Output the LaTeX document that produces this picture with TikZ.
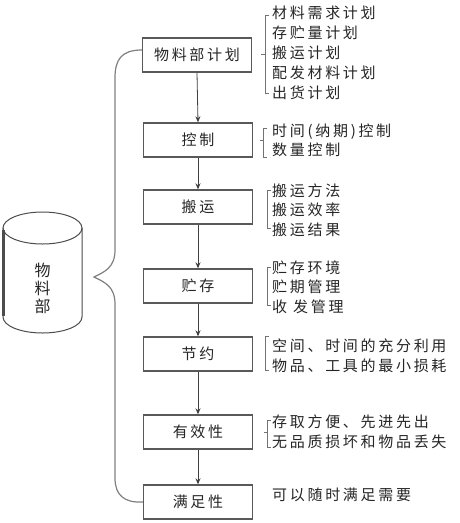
\documentclass[tikz,border=0pt]{standalone}
\usepackage{fontspec}
\newfontfamily\cjk[LetterSpace=18]{Noto Sans CJK SC}
\newfontfamily\cjkplain{Noto Sans CJK SC}
\usetikzlibrary{arrows.meta}
\begin{document}
\begin{tikzpicture}[x=1pt,y=-1pt,
  box/.style={draw=black!65, line width=1.4pt, fill=white, minimum width=109pt, minimum height=34pt, inner sep=0pt, font=\cjk\fontsize{15}{18}\selectfont, text=black!85},
  note/.style={anchor=west, align=left, inner sep=0pt, font=\cjk\fontsize{15}{19.5}\selectfont, text=black!85},
  flow/.style={draw=black!75, line width=0.8pt, -{Stealth[length=6pt,width=5pt]}},
  brk/.style={draw=black!55, line width=1pt},
  cyl/.style={draw=black!70, line width=1pt},
]
\fill[white] (0,0) rectangle (460,523);
\useasboundingbox (0,0) rectangle (460,523);

% flow boxes
\node[box] (b1) at (197,55) {物料部计划};
\node[box] (b2) at (198,140) {控制};
\node[box] (b3) at (198,207) {搬运};
\node[box] (b4) at (198,286) {贮存};
\node[box] (b5) at (198,354) {节约};
\node[box] (b6) at (198,432) {有效性};
\node[box] (b7) at (198,502) {满足性};

\draw[flow] (b1.south) -- (b2.north);
\draw[flow] (b2.south) -- (b3.north);
\draw[flow] (b3.south) -- (b4.north);
\draw[flow] (b4.south) -- (b5.north);
\draw[flow] (b5.south) -- (b6.north);
\draw[flow] (b6.south) -- (b7.north);

% notes
\node[note, font=\cjk\fontsize{15}{20}\selectfont] (t1) at (272,53) {材料需求计划\\存贮量计划\\搬运计划\\配发材料计划\\出货计划};
\node[note] (t2) at (272,140.5) {时间(纳期)控制\\数量控制};
\node[note] (t3) at (272,210) {搬运方法\\搬运效率\\搬运结果};
\node[note] (t4) at (272,287) {贮存环境\\贮期管理\\收\ 发管理};
\node[note] (t5) at (272,356) {空间、时间的充分利用\\物品、工具的最小损耗};
\node[note] (t6) at (272,432) {存取方便、先进先出\\无品质损坏和物品丢失};
\node[note] (t7) at (272,495) {可以随时满足需要};

% brackets
\draw[brk] (269,15) -- (265,15) -- (265,93) -- (269,93); \draw[brk] (265,54) -- (261,54);
\draw[brk] (267,128) -- (263,128) -- (263,157) -- (267,157); \draw[brk] (263,140) -- (260,140);
\draw[brk] (271,190) -- (267,190) -- (267,228) -- (271,228);
\draw[brk] (271,267) -- (267,267) -- (267,305) -- (271,305);
\draw[brk] (269,336) -- (265,336) -- (265,370) -- (269,370);
\draw[brk] (271,420) -- (267,420) -- (267,447) -- (271,447); \draw[brk] (267,432) -- (264,432);

% cylinder
\draw[cyl, fill=white] (3,228) -- (3,317) arc[start angle=180, end angle=0, x radius=39.5, y radius=16] -- (82,228);
\draw[cyl] (42.5,228) ellipse[x radius=39.5, y radius=16];
\draw[draw=black!70, line width=2.2pt] (3.5,230) -- (3.5,316);
\node[font=\cjkplain\fontsize{16}{18}\selectfont, align=center, text=black!85, inner sep=0pt] (cy) at (42.5,288) {物\\料\\部};

% big brace
\coordinate (tip) at (94,277);
\draw[draw=black!50, line width=1.2pt]
  ([yshift=5pt]b1.west) .. controls (121,50) and (115,60) .. (115,78)
  -- (115,250) .. controls (115,268) and (104,272) .. (tip)
  .. controls (104,282) and (115,286) .. (115,304)
  -- (115,478) .. controls (115,495) and (124,503) .. (b7.west);
\end{tikzpicture}
\end{document}
